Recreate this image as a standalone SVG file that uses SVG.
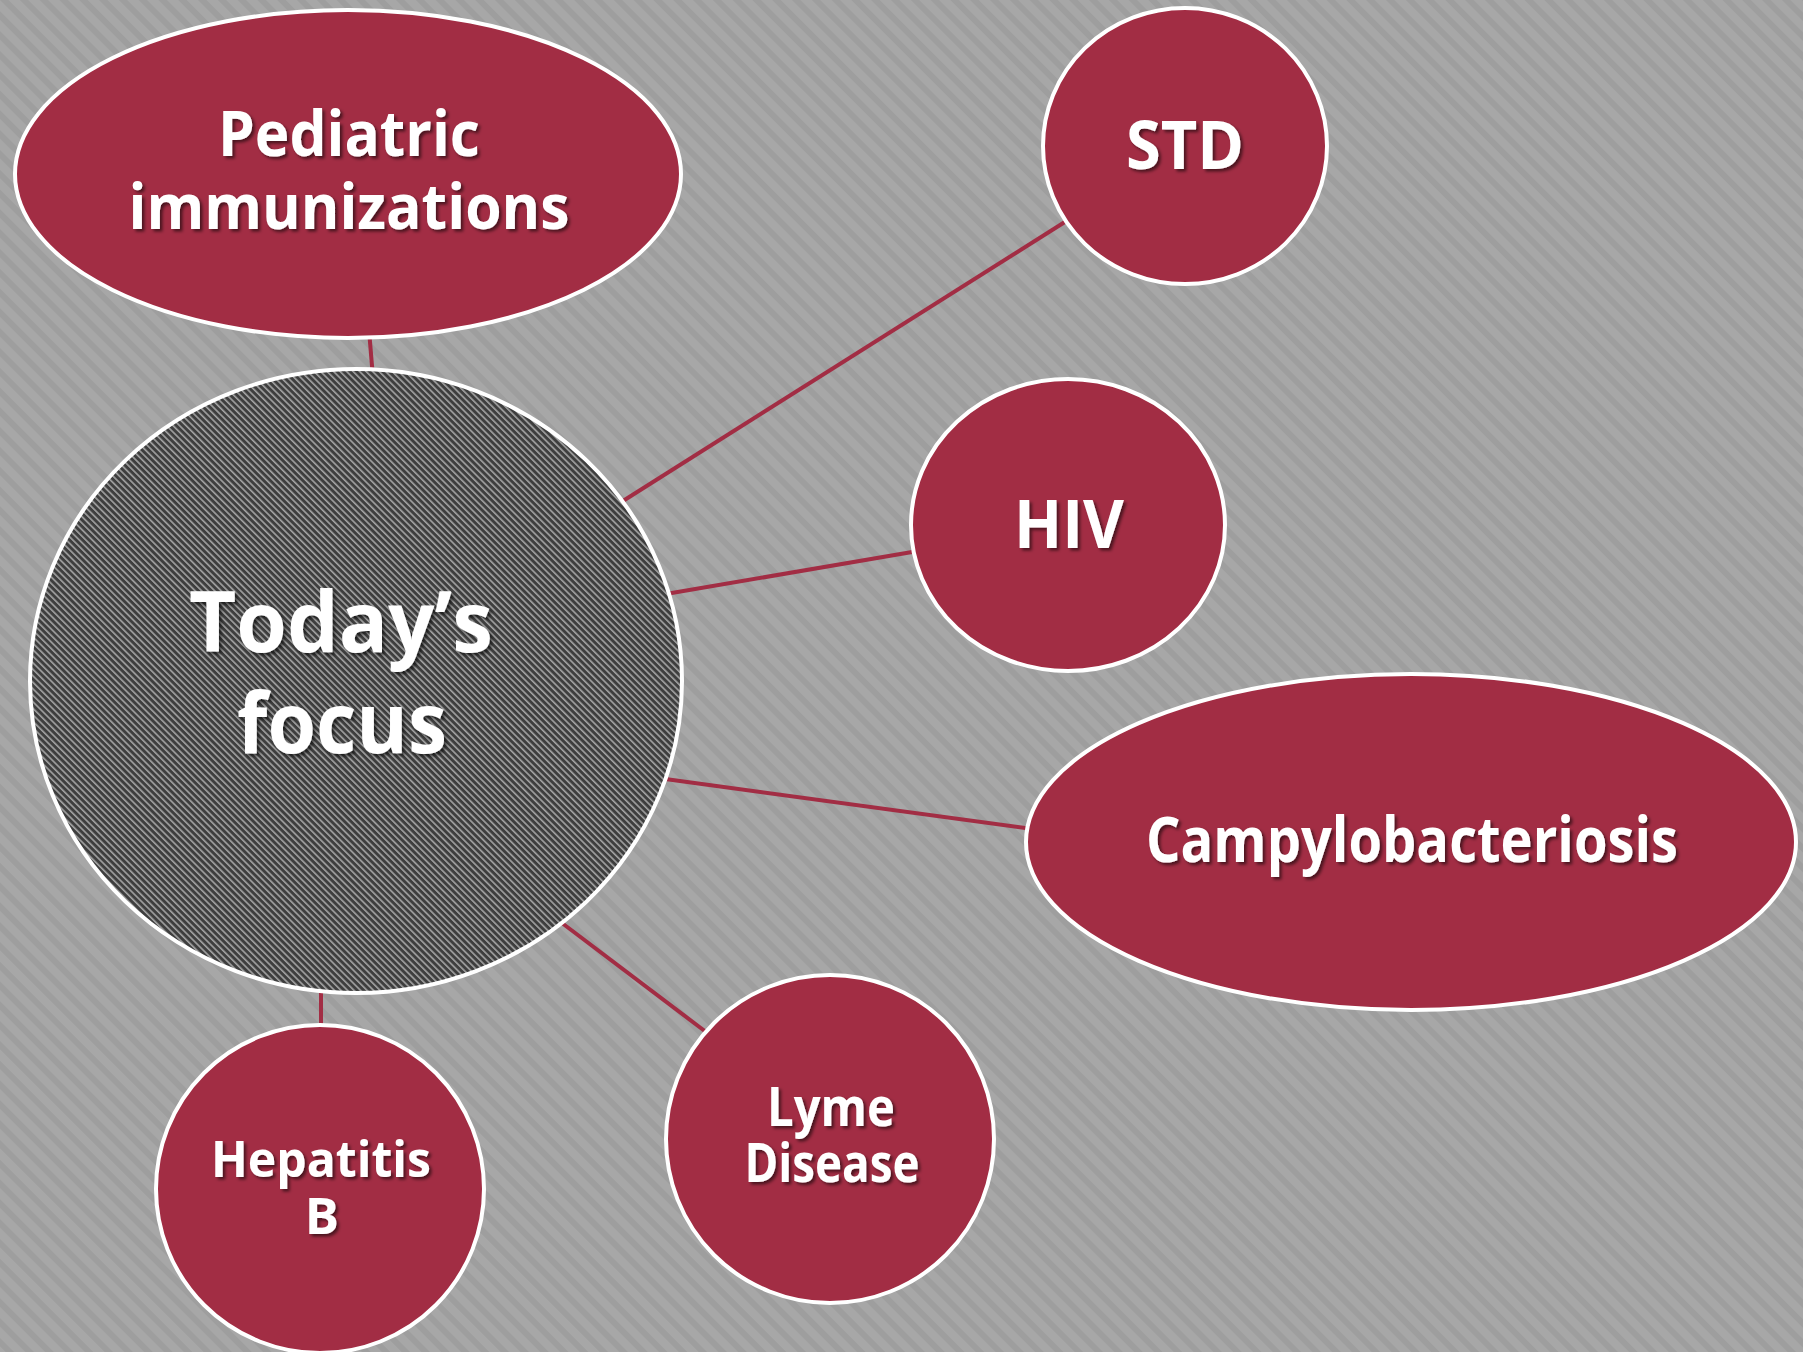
<svg xmlns="http://www.w3.org/2000/svg" width="1803" height="1352" viewBox="0 0 1803 1352">
  <defs>
    <pattern id="bg" patternUnits="userSpaceOnUse" width="14" height="14" patternTransform="rotate(-45)">
      <rect width="14" height="14" fill="#a7a7a7"/>
      <rect width="6" height="14" fill="#9e9e9e"/>
    </pattern>
    <pattern id="hatch" patternUnits="userSpaceOnUse" width="4.6" height="4.6" patternTransform="rotate(-45)">
      <rect width="4.6" height="4.6" fill="#3e3e3e"/>
      <rect width="1.6" height="4.6" fill="#a4a4a4"/>
    </pattern>
    <filter id="shadow" x="-10%" y="-10%" width="130%" height="140%">
      <feDropShadow dx="2.5" dy="2.5" stdDeviation="1.5" flood-color="#000" flood-opacity="0.55"/>
    </filter>
  </defs>
  <style>
    .node { fill: #a22d44; stroke: #ffffff; stroke-width: 4; }
    .focus { fill: url(#hatch); stroke: #ffffff; stroke-width: 4; }
    .conn { stroke: #a22d44; stroke-width: 4; fill: none; }
    .lbl { font-family: "Open Sans", "Noto Sans", "Liberation Sans", sans-serif; font-weight: 700; fill: #ffffff; text-anchor: middle; filter: url(#shadow); }
  </style>
  <rect width="1803" height="1352" fill="url(#bg)"/>
  <g id="connectors">
    <line class="conn" x1="369" y1="330" x2="373" y2="378"/>
    <line class="conn" x1="1068" y1="220" x2="615" y2="506"/>
    <line class="conn" x1="918" y1="551" x2="660" y2="595"/>
    <line class="conn" x1="1033" y1="829" x2="658" y2="778"/>
    <line class="conn" x1="710" y1="1035" x2="558" y2="920"/>
    <line class="conn" x1="321" y1="985" x2="321" y2="1030"/>
  </g>
  <g id="node-pediatric">
    <ellipse class="node" cx="348" cy="174" rx="333" ry="164"/>
    <text class="lbl" font-size="62" x="349" y="156" textLength="262" lengthAdjust="spacingAndGlyphs">Pediatric</text>
    <text class="lbl" font-size="62" x="349" y="229" textLength="441" lengthAdjust="spacingAndGlyphs">immunizations</text>
  </g>
  <g id="node-std">
    <ellipse class="node" cx="1185" cy="146" rx="142" ry="138"/>
    <text class="lbl" font-size="66" x="1185" y="169" textLength="118" lengthAdjust="spacingAndGlyphs">STD</text>
  </g>
  <g id="node-hiv">
    <ellipse class="node" cx="1068" cy="525" rx="157" ry="146"/>
    <text class="lbl" font-size="66" x="1069" y="548" textLength="110" lengthAdjust="spacingAndGlyphs">HIV</text>
  </g>
  <g id="node-campylobacteriosis">
    <ellipse class="node" cx="1411" cy="842" rx="385" ry="168"/>
    <text class="lbl" font-size="62" x="1412" y="862" textLength="532" lengthAdjust="spacingAndGlyphs">Campylobacteriosis</text>
  </g>
  <g id="node-hepatitis">
    <ellipse class="node" cx="320" cy="1189" rx="164" ry="164"/>
    <text class="lbl" font-size="51" x="321" y="1177" textLength="220" lengthAdjust="spacingAndGlyphs">Hepatitis</text>
    <text class="lbl" font-size="51" x="322" y="1234">B</text>
  </g>
  <g id="node-lyme">
    <ellipse class="node" cx="830" cy="1139" rx="164" ry="164"/>
    <text class="lbl" font-size="53" x="831" y="1126" textLength="128" lengthAdjust="spacingAndGlyphs">Lyme</text>
    <text class="lbl" font-size="53" x="832" y="1182" textLength="175" lengthAdjust="spacingAndGlyphs">Disease</text>
  </g>
  <g id="node-focus">
    <ellipse class="focus" cx="356" cy="681" rx="326" ry="312"/>
    <text class="lbl" font-size="84" x="341" y="652" textLength="304" lengthAdjust="spacingAndGlyphs">Today’s</text>
    <text class="lbl" font-size="84" x="342" y="753" textLength="210" lengthAdjust="spacingAndGlyphs">focus</text>
  </g>
</svg>
